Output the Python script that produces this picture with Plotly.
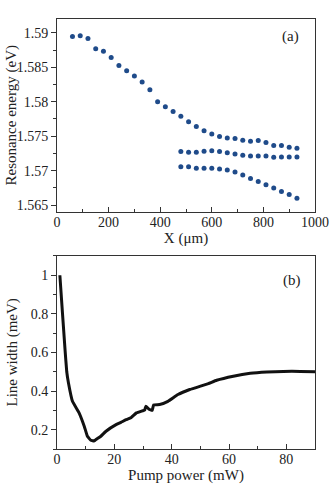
import plotly.graph_objects as go

# panel (a): resonance energy vs position
x_main = [60, 90, 120, 150, 180, 210, 240, 270, 300, 330, 360, 390, 420, 450, 480,
          510, 540, 570, 600, 630, 660, 690, 720, 750, 780, 810, 840, 870, 900, 930]
e_main = [1.58947, 1.58956, 1.58917, 1.58767, 1.58733, 1.58641, 1.58524, 1.58451,
          1.58374, 1.58286, 1.58175, 1.58000, 1.57927, 1.57859, 1.57791, 1.57709,
          1.57641, 1.57578, 1.57534, 1.57495, 1.57476, 1.57466, 1.57442, 1.57427,
          1.57437, 1.57408, 1.57364, 1.57364, 1.57340, 1.57325]
x_split = [480, 510, 540, 570, 600, 630, 660, 690, 720, 750, 780, 810, 840, 870, 900, 930]
e_mid = [1.57277, 1.57267, 1.57267, 1.57282, 1.57291, 1.57277, 1.57262, 1.57243,
         1.57223, 1.57214, 1.57214, 1.57214, 1.57194, 1.57199, 1.57199, 1.57199]
e_low = [1.57058, 1.57058, 1.57034, 1.57034, 1.57034, 1.57024, 1.57010, 1.56981,
         1.56937, 1.56888, 1.56845, 1.56796, 1.56748, 1.56699, 1.56655, 1.56602]

# panel (b): line width vs pump power
power = [1.0, 1.9, 2.8, 3.4, 4.0, 5.4, 7.7, 9.5, 10.6, 11.8, 13.0, 13.6, 15.3, 17.1,
         20.6, 22.3, 24.1, 25.8, 27.7, 29.9, 30.6, 31.0, 32.1, 33.2, 33.7, 35.8, 38.7,
         42.2, 46.3, 52.8, 55.7, 61.5, 67.4, 73.2, 79.0, 84.9, 90.0]
width = [1.0, 0.805, 0.615, 0.50, 0.442, 0.347, 0.287, 0.218, 0.166, 0.145, 0.142,
         0.149, 0.166, 0.192, 0.226, 0.238, 0.252, 0.262, 0.287, 0.298, 0.302, 0.322,
         0.306, 0.300, 0.328, 0.330, 0.347, 0.382, 0.408, 0.439, 0.456, 0.477, 0.492,
         0.499, 0.502, 0.502, 0.500]

e_ticks = [1.565, 1.57, 1.575, 1.58, 1.585, 1.59]
e_labels = ["1.565", "1.57", "1.575", "1.58", "1.585", "1.59"]

dot_color = "#1f4b8a"
tick_font = dict(family="Liberation Serif, Times New Roman, serif", size=14, color="#222")
title_font = dict(family="Liberation Serif, Times New Roman, serif", size=15, color="#222")

fig = go.Figure()
for xs, ys in [(x_main, e_main), (x_split, e_mid), (x_split, e_low)]:
    fig.add_trace(go.Scatter(x=xs, y=ys, mode="markers", xaxis="x", yaxis="y",
                             marker=dict(size=5, color=dot_color), showlegend=False))

fig.add_trace(go.Scatter(x=power, y=width, mode="lines", xaxis="x2", yaxis="y2",
                         line=dict(color="#111", width=3, shape="spline", smoothing=0.3),
                         showlegend=False))

axis_common = dict(showline=True, linecolor="#333", linewidth=1, mirror=True,
                   showgrid=False, zeroline=False, ticklen=5, tickcolor="#333",
                   tickfont=tick_font, title_font=title_font, automargin=False)

fig.update_layout(
    width=332, height=487,
    margin=dict(l=57, r=17, t=19, b=38),
    plot_bgcolor="white", paper_bgcolor="white",
    font=tick_font,
    xaxis=dict(domain=[0, 1], anchor="y", range=[0, 1000], dtick=200, ticks="inside",
               ticklabelstandoff=-3,
               minor=dict(dtick=100, ticks="inside", ticklen=3, tickcolor="#333"),
               title=dict(text="X (μm)", standoff=0), **axis_common),
    yaxis=dict(domain=[0.551, 1], anchor="x", range=[1.564, 1.592],
               tickvals=e_ticks, ticktext=e_labels, ticks="outside",
               minor=dict(dtick=0.0025, ticks="outside", ticklen=3, tickcolor="#333"),
               **axis_common),
    xaxis2=dict(domain=[0, 1], anchor="y2", range=[0, 90], dtick=20, ticks="inside",
                ticklabelstandoff=-3,
                minor=dict(dtick=10, ticks="inside", ticklen=3, tickcolor="#333"),
                title=dict(text="Pump power (mW)", standoff=0), **axis_common),
    yaxis2=dict(domain=[0, 0.449], anchor="x2", range=[0.1, 1.1],
                tickvals=[0.2, 0.4, 0.6, 0.8, 1], ticktext=["0.2", "0.4", "0.6", "0.8", "1"],
                ticks="outside",
                minor=dict(dtick=0.1, ticks="outside", ticklen=3, tickcolor="#333"),
                **axis_common),
    annotations=[
        dict(text="(a)", xref="x", yref="y", x=905, y=1.5894, showarrow=False,
             font=title_font, xanchor="center", yanchor="middle"),
        dict(text="(b)", xref="x2", yref="y2", x=82, y=0.975, showarrow=False,
             font=title_font, xanchor="center", yanchor="middle"),
        # y-axis titles placed as rotated annotations
        dict(text="Resonance energy (eV)", xref="paper", yref="y domain", x=0, y=0.5,
             xshift=-45, textangle=-90, showarrow=False, font=title_font,
             xanchor="center", yanchor="middle"),
        dict(text="Line width (meV)", xref="paper", yref="y2 domain", x=0, y=0.5,
             xshift=-45, textangle=-90, showarrow=False, font=title_font,
             xanchor="center", yanchor="middle"),
    ],
)

fig.write_html("out.html", config={"displayModeBar": False},
               post_script="document.body.style.margin='0';")
